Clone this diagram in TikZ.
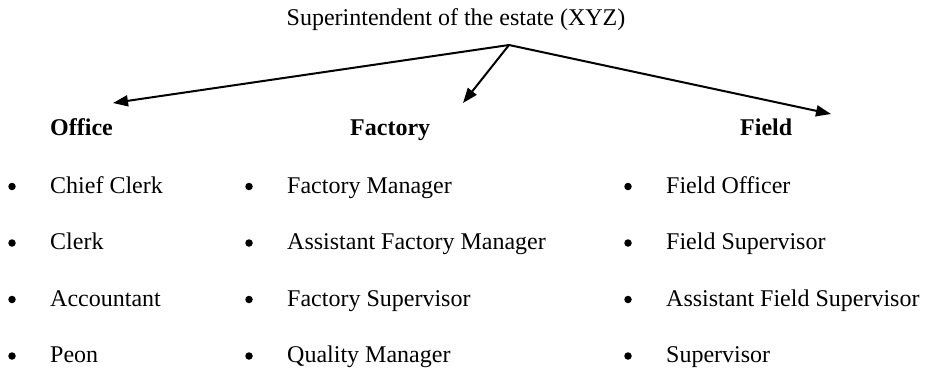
\documentclass[tikz,border=0pt]{standalone}
\usepackage{fontspec}
\setmainfont{Liberation Serif}
\usetikzlibrary{arrows.meta}

\tikzset{
  txt/.style={inner sep=0pt,anchor=base west,font=\fontsize{24}{28}\selectfont},
  head/.style={txt,font=\fontsize{24}{28}\selectfont\bfseries},
  dot/.style={circle,fill,inner sep=0pt,minimum size=7.5pt},
  link/.style={line width=2pt,-{Triangle[length=15pt,width=11pt]}}
}

\begin{document}
\begin{tikzpicture}[x=1pt,y=-1pt]
    \useasboundingbox (0,0) rectangle (928,370);

    \node[txt,anchor=base] (sup) at (456,25) {Superintendent of the estate (XYZ)};
    \coordinate (fork) at (509,45);

    \node[head] (office) at (50,135) {Office};
    \node[head] (factory) at (350,135) {Factory};
    \node[head] (field) at (740,135) {Field};

    \coordinate (toffice) at (113,103);
    \coordinate (tfactory) at (463,103);
    \coordinate (tfield) at (831,114);

    \node[txt] (o1) at (50,193) {Chief Clerk};
    \node[txt] (o2) at (50,249.5) {Clerk};
    \node[txt] (o3) at (50,306) {Accountant};
    \node[txt] (o4) at (50,362.5) {Peon};
    \node[dot] (bo1) at (12,186.5) {};
    \node[dot] (bo2) at (12,243) {};
    \node[dot] (bo3) at (12,299.5) {};
    \node[dot] (bo4) at (12,356) {};

    \node[txt] (f1) at (287,193) {Factory Manager};
    \node[txt] (f2) at (287,249.5) {Assistant Factory Manager};
    \node[txt] (f3) at (287,306) {Factory Supervisor};
    \node[txt] (f4) at (287,362.5) {Quality Manager};
    \node[dot] (bf1) at (249,186.5) {};
    \node[dot] (bf2) at (249,243) {};
    \node[dot] (bf3) at (249,299.5) {};
    \node[dot] (bf4) at (249,356) {};

    \node[txt] (d1) at (666,193) {Field Officer};
    \node[txt] (d2) at (666,249.5) {Field Supervisor};
    \node[txt] (d3) at (666,306) {Assistant Field Supervisor};
    \node[txt] (d4) at (666,362.5) {Supervisor};
    \node[dot] (bd1) at (628,186.5) {};
    \node[dot] (bd2) at (628,243) {};
    \node[dot] (bd3) at (628,299.5) {};
    \node[dot] (bd4) at (628,356) {};

    \draw[link] (fork) -- (toffice);
    \draw[link] (fork) -- (tfactory);
    \draw[link] (fork) -- (tfield);

\end{tikzpicture}
\end{document}
